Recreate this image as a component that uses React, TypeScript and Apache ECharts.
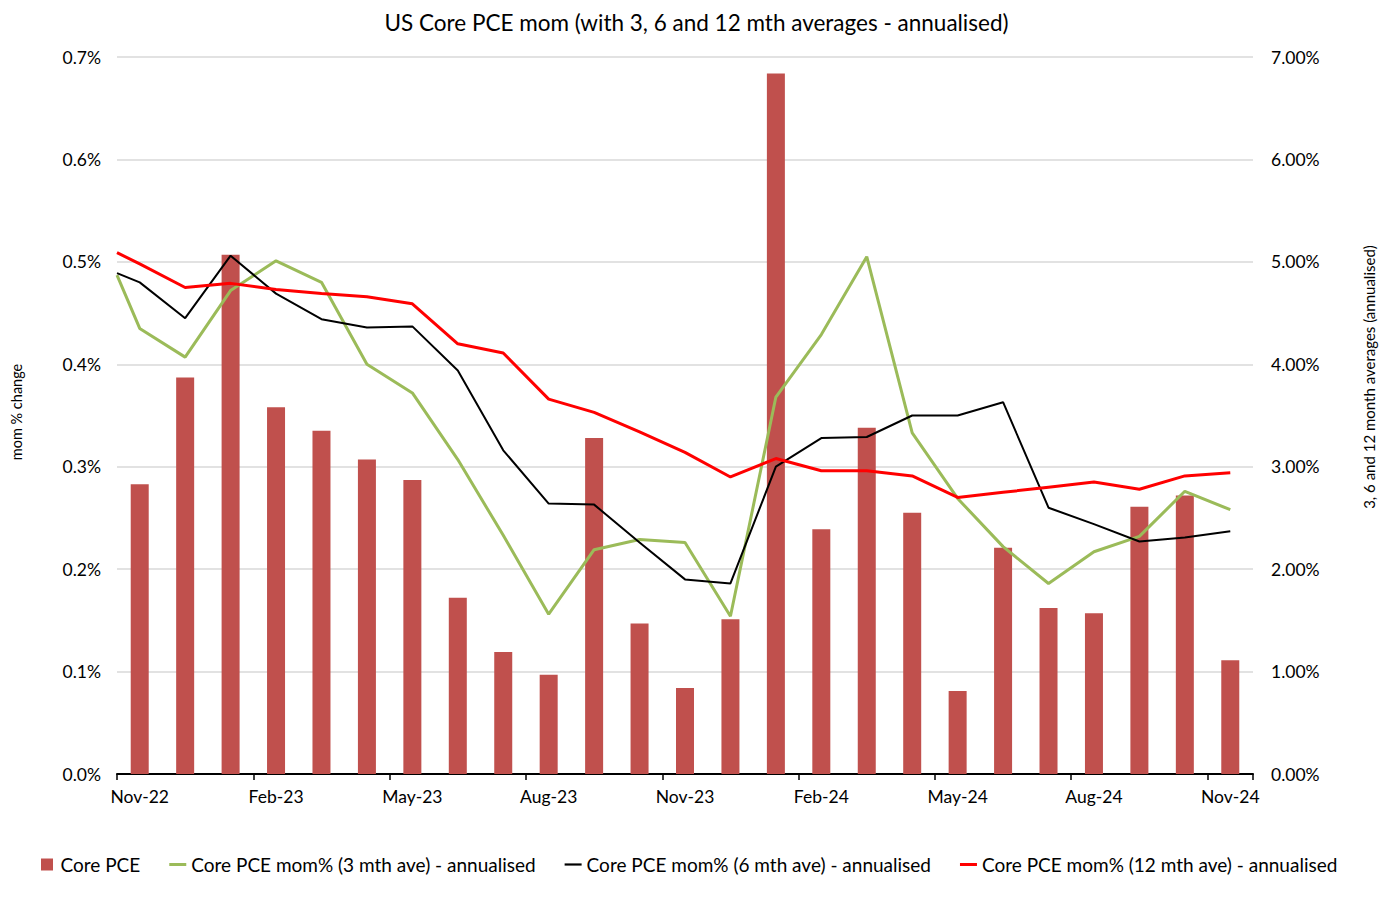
import React, { useEffect, useRef } from "react";
import * as echarts from "echarts";

const categories = [
  "Nov-22", "Dec-22", "Jan-23", "Feb-23", "Mar-23", "Apr-23", "May-23", "Jun-23", "Jul-23",
  "Aug-23", "Sep-23", "Oct-23", "Nov-23", "Dec-23", "Jan-24", "Feb-24", "Mar-24", "Apr-24",
  "May-24", "Jun-24", "Jul-24", "Aug-24", "Sep-24", "Oct-24", "Nov-24",
];

// Core PCE mom % (left axis)
const corePce = [
  0.283, 0.387, 0.507, 0.358, 0.335, 0.307, 0.287, 0.172, 0.119, 0.097, 0.328, 0.147, 0.084,
  0.151, 0.684, 0.239, 0.338, 0.255, 0.081, 0.221, 0.162, 0.157, 0.261, 0.272, 0.111,
];

// Line positions on the category scale (first point sits at the left edge)
const linePositions = [-0.5, 0, 1, 2, 3, 4, 5, 6, 7, 8, 9, 10, 11, 12, 13, 14, 15, 16, 17, 18, 19, 20, 21, 22, 23, 24];

// Annualised averages (right axis)
const avg3 = [
  4.87, 4.35, 4.07, 4.72, 5.01, 4.8, 4.0, 3.72, 3.07, 2.33, 1.56, 2.19, 2.29, 2.26, 1.54, 3.68,
  4.29, 5.05, 3.33, 2.69, 2.22, 1.86, 2.17, 2.32, 2.76, 2.58,
];
const avg6 = [
  4.89, 4.8, 4.45, 5.06, 4.69, 4.44, 4.36, 4.37, 3.94, 3.16, 2.64, 2.63, 2.26, 1.9, 1.86, 3.0,
  3.28, 3.29, 3.5, 3.5, 3.63, 2.6, 2.44, 2.27, 2.31, 2.37,
];
const avg12 = [
  5.09, 4.98, 4.75, 4.79, 4.73, 4.69, 4.66, 4.59, 4.2, 4.11, 3.66, 3.53, 3.34, 3.14, 2.9, 3.08,
  2.96, 2.96, 2.91, 2.7, 2.75, 2.8, 2.85, 2.78, 2.91, 2.94,
];

const seriesNames = [
  "Core PCE",
  "Core PCE mom% (3 mth ave) - annualised",
  "Core PCE mom% (6 mth ave) - annualised",
  "Core PCE mom% (12 mth ave) - annualised",
];

const FONT = "Lato, 'Open Sans', sans-serif";

export default function App() {
  const ref = useRef<HTMLDivElement>(null);

  useEffect(() => {
    if (!ref.current) return;
    const chart = echarts.init(ref.current, undefined, { renderer: "svg" });
    const pair = (arr: number[]) => arr.map((v, i) => [linePositions[i], v]);

    chart.setOption({
      animation: false,
      backgroundColor: "#fff",
      textStyle: { fontFamily: FONT },
      title: {
        text: "US Core PCE mom (with 3, 6 and 12 mth averages - annualised)",
        left: "center",
        top: 6,
        textStyle: { fontFamily: FONT, fontSize: 22.5, fontWeight: "normal", color: "#000" },
      },
      grid: { left: 117, right: 140, top: 57, bottom: 135, containLabel: false },
      legend: {
        top: 850,
        left: 36,
        itemWidth: 17,
        itemHeight: 12,
        itemGap: 29,
        symbolKeepAspect: true,
        textStyle: { fontFamily: FONT, fontSize: 19, color: "#000" },
        data: [
          { name: seriesNames[0], icon: "path://M0,0 H12 V12 H0 Z" },
          { name: seriesNames[1], icon: "path://M0,0 H17 V3 H0 Z" },
          { name: seriesNames[2], icon: "path://M0,0 H17 V2.2 H0 Z" },
          { name: seriesNames[3], icon: "path://M0,0 H17 V3 H0 Z" },
        ],
      },
      xAxis: [
        {
          type: "category",
          data: categories,
          boundaryGap: true,
          axisLine: { show: true, lineStyle: { color: "#000", width: 2 } },
          axisTick: { show: true, interval: 2, length: 6, lineStyle: { color: "#000", width: 1.5 } },
          axisLabel: {
            interval: 2,
            fontFamily: FONT,
            fontSize: 17.5,
            color: "#000",
            margin: 13,
          },
          splitLine: { show: false },
        },
        {
          type: "value",
          min: -0.5,
          max: 24.5,
          show: false,
        },
      ],
      yAxis: [
        {
          type: "value",
          min: 0,
          max: 0.7,
          interval: 0.1,
          axisLine: { show: false },
          axisTick: { show: false },
          axisLabel: {
            formatter: (v: number) => `${v.toFixed(1)}%`,
            fontFamily: FONT,
            fontSize: 17.5,
            color: "#000",
            margin: 16,
          },
          splitLine: { show: true, lineStyle: { color: "#d9d9d9", width: 1.5 } },
        },
        {
          type: "value",
          min: 0,
          max: 7,
          interval: 1,
          axisLine: { show: false },
          axisTick: { show: false },
          axisLabel: {
            formatter: (v: number) => `${v.toFixed(2)}%`,
            fontFamily: FONT,
            fontSize: 17.5,
            color: "#000",
            margin: 18,
          },
          splitLine: { show: false },
        },
      ],
      graphic: [
        {
          type: "text",
          x: 16,
          y: 412,
          rotation: Math.PI / 2,
          style: {
            text: "mom % change",
            fontFamily: FONT,
            fontSize: 14.5,
            fill: "#000",
            align: "center",
            verticalAlign: "middle",
          },
        },
        {
          type: "text",
          x: 1369,
          y: 377,
          rotation: Math.PI / 2,
          style: {
            text: "3, 6 and 12 month averages (annualised)",
            fontFamily: FONT,
            fontSize: 15,
            fill: "#000",
            align: "center",
            verticalAlign: "middle",
          },
        },
      ],
      series: [
        {
          name: seriesNames[0],
          type: "bar",
          xAxisIndex: 0,
          yAxisIndex: 0,
          data: corePce,
          barWidth: 18,
          itemStyle: { color: "#C0504D" },
        },
        {
          name: seriesNames[1],
          type: "line",
          xAxisIndex: 1,
          yAxisIndex: 1,
          data: pair(avg3),
          symbol: "none",
          lineStyle: { color: "#9BBB59", width: 3 },
          itemStyle: { color: "#9BBB59" },
        },
        {
          name: seriesNames[2],
          type: "line",
          xAxisIndex: 1,
          yAxisIndex: 1,
          data: pair(avg6),
          symbol: "none",
          lineStyle: { color: "#000000", width: 2 },
          itemStyle: { color: "#000000" },
        },
        {
          name: seriesNames[3],
          type: "line",
          xAxisIndex: 1,
          yAxisIndex: 1,
          data: pair(avg12),
          symbol: "none",
          lineStyle: { color: "#FF0000", width: 3 },
          itemStyle: { color: "#FF0000" },
        },
      ],
    });

    return () => chart.dispose();
  }, []);

  return (
    <div
      ref={ref}
      style={{ position: "absolute", left: 0, top: 0, width: 1393, height: 909 }}
    />
  );
}
